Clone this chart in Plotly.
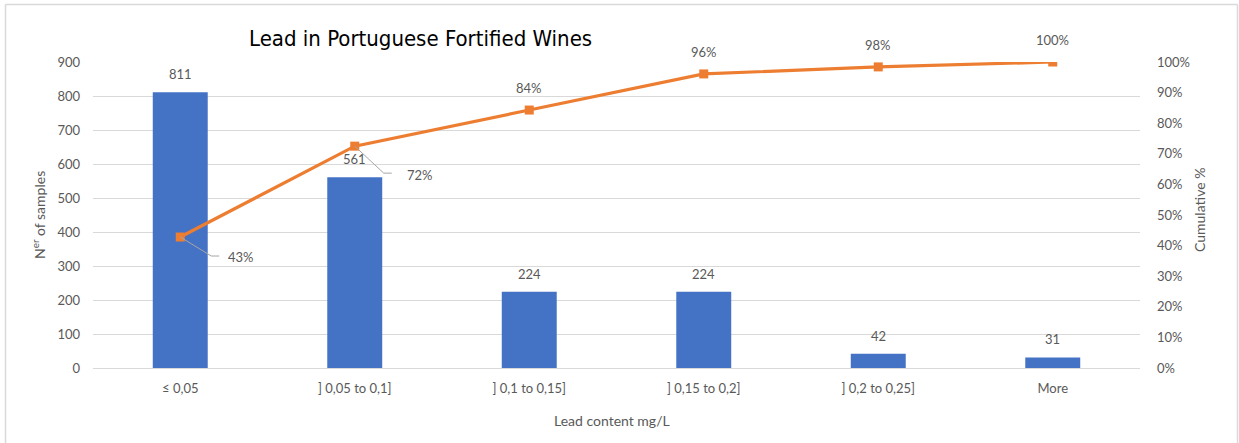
import plotly.graph_objects as go

# Lead content classes (mg/L) and sample counts per class
categories = ["≤ 0,05", "] 0,05 to 0,1]", "] 0,1 to 0,15]", "] 0,15 to 0,2]", "] 0,2 to 0,25]", "More"]
samples = [811, 561, 224, 224, 42, 31]
cumulative_pct = [42.8, 72.5, 84.3, 96.1, 98.4, 100.0]

BAR = "#4472C4"
LINE = "#ED7D31"
GREY = "#595959"
GRID = "#d9d9d9"
FONT = "Lato, 'Open Sans', sans-serif"

W, H = 1239, 443
ML, MR, MT, MB = 93, 99, 62, 75
PW, PH = W - ML - MR, H - MT - MB


def px_x(p):
    return (p - ML) / PW


def px_y(p):
    return (H - MB - p) / PH


fig = go.Figure()
fig.add_trace(go.Bar(
    x=categories, y=samples, marker=dict(color=BAR, line=dict(width=0)),
    width=0.315, name="N of samples", hoverinfo="x+y",
))
fig.add_trace(go.Scatter(
    x=categories, y=cumulative_pct, yaxis="y2", mode="lines+markers",
    line=dict(color=LINE, width=3.2), marker=dict(symbol="square", size=9, color=LINE),
    name="Cumulative %",
))

annotations = []
# count labels above bars
for c, v in zip(categories, samples):
    annotations.append(dict(
        x=c, y=v, xref="x", yref="y", text=f"{v}", showarrow=False,
        yanchor="bottom", yshift=8, font=dict(family=FONT, size=13, color=GREY),
    ))

# cumulative labels: the first two sit to the lower right with leader lines
leader = {0: (31, -19, 39, 46, -20), 1: (29, -27, 37, 50, -29)}
shapes = []
for i, (c, v) in enumerate(zip(categories, cumulative_pct)):
    label = f"{v:.0f}%"
    if i in leader:
        dx1, dy1, dx2, tx, ty = leader[i]
        shapes.append(dict(
            type="path", xref="x", yref="y2", xsizemode="pixel", ysizemode="pixel",
            xanchor=i, yanchor=v, path=f"M 0,0 L {dx1},{dy1} L {dx2},{dy1}",
            line=dict(color="#a6a6a6", width=1),
        ))
        annotations.append(dict(
            x=c, y=v, xref="x", yref="y2", text=label, showarrow=False,
            xanchor="left", yanchor="middle", xshift=tx, yshift=ty,
            font=dict(family=FONT, size=13, color=GREY),
        ))
    else:
        annotations.append(dict(
            x=c, y=v, xref="x", yref="y2", text=label, showarrow=False,
            yanchor="bottom", yshift=12, font=dict(family=FONT, size=13, color=GREY),
        ))

# chart title and axis titles
annotations += [
    dict(x=px_x(420), y=px_y(38), xref="paper", yref="paper", text="Lead in Portuguese Fortified Wines",
         showarrow=False, xanchor="center", yanchor="middle",
         font=dict(family="'DejaVu Sans Condensed', 'Liberation Sans Narrow', sans-serif", size=22,
                   color="#000000")),
    dict(x=px_x(38), y=px_y(215), xref="paper", yref="paper", text="N<sup>er</sup> of samples",
         showarrow=False, textangle=-90, xanchor="center", yanchor="middle",
         font=dict(family=FONT, size=14, color=GREY)),
    dict(x=px_x(1200), y=px_y(210), xref="paper", yref="paper", text="Cumulative %",
         showarrow=False, textangle=-90, xanchor="center", yanchor="middle",
         font=dict(family=FONT, size=14, color=GREY)),
    dict(x=px_x(612), y=px_y(420), xref="paper", yref="paper", text="Lead content mg/L",
         showarrow=False, xanchor="center", yanchor="middle",
         font=dict(family=FONT, size=14, color=GREY)),
]

# light frame around the chart
shapes += [
    dict(type="line", xref="paper", yref="paper", x0=px_x(5.5), x1=px_x(5.5), y0=px_y(4.5), y1=px_y(450),
         line=dict(color=GRID, width=1.5)),
    dict(type="line", xref="paper", yref="paper", x0=px_x(5.5), x1=px_x(1237.5), y0=px_y(4.5), y1=px_y(4.5),
         line=dict(color=GRID, width=1.5)),
    dict(type="line", xref="paper", yref="paper", x0=px_x(1237.5), x1=px_x(1237.5), y0=px_y(4.5), y1=px_y(450),
         line=dict(color=GRID, width=1.5)),
]

fig.update_layout(
    width=W, height=H, margin=dict(l=ML, r=MR, t=MT, b=MB),
    paper_bgcolor="white", plot_bgcolor="white", showlegend=False,
    font=dict(family=FONT, size=13, color=GREY),
    xaxis=dict(type="category", showgrid=False, showline=True, linecolor=GRID, linewidth=1,
               ticks="", tickfont=dict(family=FONT, size=13, color=GREY), ticklabelstandoff=8),
    yaxis=dict(range=[0, 900], dtick=100, showgrid=True, gridcolor=GRID, gridwidth=1,
               zeroline=False, showline=False, ticks="", ticklabelstandoff=12,
               tickfont=dict(family=FONT, size=13, color=GREY)),
    yaxis2=dict(range=[0, 100], dtick=10, ticksuffix="%", overlaying="y", side="right",
                showgrid=False, zeroline=False, showline=False, ticks="", ticklabelstandoff=16,
                tickfont=dict(family=FONT, size=13, color=GREY)),
    annotations=annotations, shapes=shapes,
)

fig.write_html("out.html")
